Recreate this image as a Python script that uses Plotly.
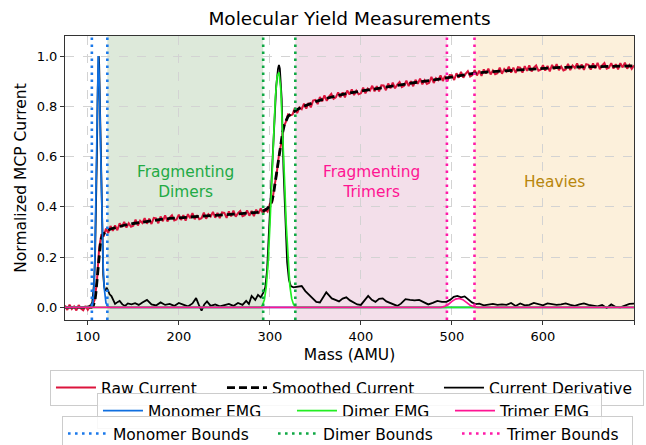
import plotly.graph_objects as go

# ---------------- data ----------------
MASS_START = 75.0
MASS_STEP = 2.5
raw_current = [
    0.008, -0.010, 0.011, -0.006, 0.004, -0.012, 0.009, -0.004, -0.011, 0.006,
    -0.009, 0.007, 0.006, 0.030, 0.100, 0.235, 0.292, 0.282, 0.314, 0.296,
    0.324, 0.305, 0.326, 0.307, 0.335, 0.320, 0.340, 0.318, 0.335, 0.321,
    0.325, 0.349, 0.326, 0.345, 0.336, 0.355, 0.333, 0.353, 0.332, 0.356,
    0.354, 0.335, 0.362, 0.343, 0.366, 0.342, 0.357, 0.367, 0.346, 0.350,
    0.369, 0.348, 0.367, 0.345, 0.371, 0.355, 0.375, 0.351, 0.367, 0.351,
    0.355, 0.377, 0.353, 0.371, 0.362, 0.380, 0.357, 0.376, 0.355, 0.378,
    0.376, 0.356, 0.382, 0.362, 0.385, 0.361, 0.375, 0.384, 0.363, 0.367,
    0.386, 0.365, 0.384, 0.363, 0.389, 0.373, 0.394, 0.373, 0.390, 0.381,
    0.412, 0.418, 0.482, 0.532, 0.607, 0.652, 0.718, 0.737, 0.768, 0.764,
    0.768, 0.794, 0.773, 0.795, 0.789, 0.811, 0.791, 0.814, 0.796, 0.823,
    0.826, 0.809, 0.837, 0.820, 0.844, 0.822, 0.839, 0.850, 0.830, 0.836,
    0.856, 0.836, 0.856, 0.836, 0.863, 0.847, 0.868, 0.845, 0.862, 0.848,
    0.852, 0.875, 0.852, 0.871, 0.863, 0.882, 0.860, 0.880, 0.860, 0.884,
    0.883, 0.864, 0.891, 0.872, 0.895, 0.872, 0.887, 0.897, 0.877, 0.882,
    0.902, 0.881, 0.900, 0.880, 0.906, 0.890, 0.910, 0.888, 0.904, 0.889,
    0.894, 0.917, 0.893, 0.912, 0.904, 0.923, 0.901, 0.921, 0.900, 0.925,
    0.924, 0.905, 0.932, 0.914, 0.937, 0.914, 0.929, 0.940, 0.919, 0.925,
    0.944, 0.923, 0.942, 0.921, 0.947, 0.931, 0.950, 0.927, 0.943, 0.928,
    0.932, 0.954, 0.930, 0.949, 0.939, 0.958, 0.934, 0.954, 0.933, 0.956,
    0.954, 0.934, 0.960, 0.941, 0.963, 0.939, 0.954, 0.963, 0.942, 0.946,
    0.964, 0.942, 0.961, 0.939, 0.965, 0.948, 0.968, 0.944, 0.959, 0.943,
    0.947, 0.969, 0.944, 0.963, 0.953, 0.971, 0.948, 0.967, 0.945, 0.968,
    0.965, 0.946, 0.971, 0.951, 0.973, 0.948, 0.963, 0.972, 0.950, 0.954,
    0.972, 0.950, 0.968, 0.947, 0.972, 0.955, 0.974, 0.950, 0.965, 0.949,
    0.963,
]

smoothed_mass = [75, 100, 104, 106, 108, 109, 110, 111, 112, 113, 114, 115, 116, 118,
                 120, 122, 125, 130, 140, 150, 160, 170, 180, 190, 200, 210, 220, 230,
                 240, 250, 260, 270, 280, 286, 290, 294, 297, 300, 302, 304, 306, 308,
                 310, 312, 314, 316, 318, 320, 323, 326, 330, 335, 340, 345, 351, 360,
                 370, 380, 390, 400, 420, 440, 460, 480, 494, 510, 525, 540, 560, 580,
                 600, 620, 640, 660, 680, 700]
smoothed_current = [0.0, 0.0, 0.0, 0.005, 0.03, 0.06, 0.10, 0.15, 0.20, 0.24, 0.26, 0.275,
                    0.285, 0.295, 0.302, 0.307, 0.312, 0.318, 0.327, 0.334, 0.340, 0.345,
                    0.350, 0.354, 0.357, 0.360, 0.363, 0.365, 0.367, 0.369, 0.371, 0.373,
                    0.376, 0.378, 0.381, 0.386, 0.393, 0.405, 0.42, 0.45, 0.50, 0.55,
                    0.60, 0.65, 0.695, 0.728, 0.748, 0.760, 0.770, 0.778, 0.787, 0.797,
                    0.805, 0.813, 0.820, 0.830, 0.840, 0.848, 0.855, 0.861, 0.873, 0.884,
                    0.895, 0.905, 0.913, 0.923, 0.932, 0.937, 0.942, 0.947, 0.952, 0.955,
                    0.957, 0.959, 0.960, 0.961]

derivative_points = [
    (75, 0.0), (80, 0.003), (85, -0.002), (90, 0.002), (95, -0.001), (100, 0.003),
    (103, 0.006), (105, 0.02), (106, 0.05), (107, 0.10), (108, 0.20), (109, 0.37),
    (110, 0.60), (111, 0.87), (111.5, 0.97), (112, 1.0), (112.5, 0.97), (113, 0.88),
    (114, 0.64), (115, 0.41), (116, 0.23), (117, 0.13), (118, 0.085), (119, 0.068),
    (120, 0.07), (121, 0.076), (122, 0.07), (124, 0.052), (126, 0.045), (128, 0.03),
    (130, 0.014), (133, 0.022), (135, 0.026), (138, 0.012), (141, 0.006), (144, 0.016),
    (148, 0.012), (152, 0.017), (156, 0.01), (160, 0.02), (165, 0.03), (170, 0.012),
    (175, 0.008), (180, 0.02), (185, 0.01), (190, 0.014), (195, 0.006), (200, 0.018),
    (205, 0.012), (210, 0.004), (215, 0.016), (219, 0.037), (222, 0.01), (225, -0.013),
    (228, 0.012), (231, 0.024), (235, 0.006), (240, 0.012), (245, 0.004), (250, 0.008),
    (255, 0.014), (260, 0.006), (265, 0.018), (270, 0.01), (274, 0.026), (277, 0.014),
    (280, 0.046), (284, 0.03), (287, 0.05), (290, 0.04), (293, 0.06), (295, 0.08),
    (297, 0.15), (299, 0.30), (301, 0.46), (303, 0.62), (305, 0.77), (307, 0.88),
    (309, 0.95), (310, 0.965), (311, 0.95), (313, 0.83), (315, 0.55), (317, 0.32),
    (319, 0.18), (321, 0.11), (323, 0.085), (326, 0.08), (330, 0.082), (335, 0.085),
    (339, 0.065), (343, 0.05), (347, 0.038), (351, 0.022), (355, 0.02), (359, 0.045),
    (362, 0.06), (365, 0.048), (368, 0.036), (372, 0.03), (376, 0.024), (380, 0.035),
    (384, 0.04), (388, 0.028), (392, 0.02), (396, 0.012), (400, 0.01), (404, 0.03),
    (408, 0.046), (412, 0.03), (416, 0.022), (420, 0.034), (424, 0.036), (428, 0.024),
    (432, 0.018), (436, 0.01), (440, 0.006), (444, 0.015), (449, 0.033), (454, 0.03),
    (459, 0.028), (464, 0.03), (469, 0.02), (474, 0.012), (479, 0.018), (484, 0.026),
    (489, 0.022), (494, 0.022), (498, 0.03), (502, 0.042), (506, 0.046), (510, 0.04),
    (514, 0.044), (518, 0.03), (522, 0.02), (526, 0.013), (530, 0.015), (535, 0.008),
    (540, 0.012), (545, 0.014), (550, 0.01), (555, 0.012), (560, 0.01), (565, 0.018),
    (570, 0.006), (575, 0.016), (580, 0.008), (585, 0.01), (590, 0.018), (595, 0.012),
    (600, 0.008), (605, 0.016), (610, 0.014), (615, 0.01), (620, 0.012), (625, 0.016),
    (630, 0.01), (635, 0.006), (640, 0.012), (645, 0.016), (650, 0.01), (655, 0.008),
    (660, 0.004), (665, 0.01), (670, -0.002), (675, 0.012), (680, 0.002), (685, 0.0),
    (690, 0.008), (695, 0.014), (700, 0.015),
]

monomer_emg_points = [
    (75, 0.0), (103, 0.0), (104, 0.002), (105, 0.008), (106, 0.03), (107, 0.09),
    (108, 0.22), (109, 0.46), (110, 0.74), (110.5, 0.88), (111, 0.97), (111.5, 1.0),
    (112, 0.98), (112.5, 0.93), (113, 0.86), (114, 0.66), (115, 0.45), (116, 0.28),
    (117, 0.16), (118, 0.08), (119, 0.04), (120, 0.018), (122, 0.004), (125, 0.0),
    (700, 0.0),
]
dimer_emg_points = [
    (75, 0.0), (290, 0.0), (292, 0.01), (294, 0.03), (296, 0.08), (298, 0.17),
    (300, 0.32), (302, 0.50), (304, 0.68), (306, 0.83), (308, 0.92), (310, 0.935),
    (312, 0.87), (314, 0.72), (316, 0.52), (318, 0.33), (320, 0.18), (322, 0.085),
    (324, 0.035), (326, 0.012), (328, 0.003), (330, 0.0), (700, 0.0),
]
trimer_emg_points = [
    (75, 0.0), (488, 0.0), (492, 0.004), (496, 0.012), (500, 0.024), (504, 0.033),
    (508, 0.036), (512, 0.031), (516, 0.02), (520, 0.009), (524, 0.003), (528, 0.0),
    (700, 0.0),
]

monomer_bounds = [104.5, 121.5]
dimer_bounds = [292.7, 328.0]
trimer_bounds = [494.5, 524.8]

x_range = [75, 700]
y_range = [-0.05, 1.08]
x_ticks = [100, 200, 300, 400, 500, 600, 700]
y_ticks = [0.0, 0.2, 0.4, 0.6, 0.8, 1.0]

region_labels = ["Fragmenting<br>Dimers", "Fragmenting<br>Trimers", "Heavies"]

# ---------------- styles ----------------
FONT = "DejaVu Sans"
C_RAW = "#DC143C"
C_MONO = "#0f6fe0"
C_DIMER = "#22ee22"
C_TRIMER = "#ff1493"
C_MONO_B = "#1a78ea"
C_DIMER_B = "#0fa844"
C_TRIMER_B = "#ff1aa8"
SHADES = ["#dde9da", "#f3dfea", "#fcf0db"]
LABEL_COLORS = ["#22aa44", "#ff1493", "#b8860b"]
# legend entry widths (px) per row, to mimic matplotlib column spacing
LW_ROW1 = [116, 162, 149]
LW_ROW2 = [139, 103, 96]
LW_ROW3 = [155, 129, 120]


def unzip(pts):
    return [p[0] for p in pts], [p[1] for p in pts]


fig = go.Figure()

# shaded regions
regions = [
    (monomer_bounds[1], dimer_bounds[0]),
    (dimer_bounds[1], trimer_bounds[0]),
    (trimer_bounds[1], x_range[1]),
]
for (a, b), col, lab, lcol in zip(regions, SHADES, region_labels, LABEL_COLORS):
    fig.add_vrect(x0=a, x1=b, fillcolor=col, line_width=0, layer="below")
    fig.add_annotation(x=(a + b) / 2, y=0.5, text=lab, showarrow=False,
                       font=dict(family=FONT, size=15.4, color=lcol), align="center")

fig.add_trace(go.Scatter(x0=MASS_START, dx=MASS_STEP, y=raw_current, mode="lines",
                         name="Raw Current", line=dict(color=C_RAW, width=2.0),
                         legend="legend", legendwidth=LW_ROW1[0]))
fig.add_trace(go.Scatter(x=smoothed_mass, y=smoothed_current, mode="lines",
                         name="Smoothed Current",
                         line=dict(color="black", width=2.8, dash="8px,4px"),
                         legend="legend", legendwidth=LW_ROW1[1]))
dx_, dy_ = unzip(derivative_points)
fig.add_trace(go.Scatter(x=dx_, y=dy_, mode="lines", name="Current Derivative",
                         line=dict(color="black", width=1.8), legend="legend",
                         legendwidth=LW_ROW1[2]))

for i, (pts, name, col) in enumerate([(monomer_emg_points, "Monomer EMG", C_MONO),
                                      (dimer_emg_points, "Dimer EMG", C_DIMER),
                                      (trimer_emg_points, "Trimer EMG", C_TRIMER)]):
    px, py = unzip(pts)
    fig.add_trace(go.Scatter(x=px, y=py, mode="lines", name=name,
                             line=dict(color=col, width=1.7), legend="legend2",
                             legendwidth=LW_ROW2[i]))

for i, (bnds, name, col) in enumerate([(monomer_bounds, "Monomer Bounds", C_MONO_B),
                                       (dimer_bounds, "Dimer Bounds", C_DIMER_B),
                                       (trimer_bounds, "Trimer Bounds", C_TRIMER_B)]):
    fig.add_trace(go.Scatter(
        x=[bnds[0], bnds[0], None, bnds[1], bnds[1]],
        y=[y_range[0], y_range[1], None, y_range[0], y_range[1]],
        mode="lines", name=name, legend="legend3", legendwidth=LW_ROW3[i],
        line=dict(color=col, width=2.6, dash="2.6px,4.4px")))

axis_common = dict(
    showline=True, mirror=True, linecolor="#333333", linewidth=1,
    ticks="outside", ticklen=4, tickcolor="#333333",
    showgrid=True, gridcolor="#d3d3d3", griddash="dash", gridwidth=1,
    zeroline=False, automargin=False,
    tickfont=dict(family=FONT, size=13, color="black"),
)

legend_common = dict(
    orientation="h", xanchor="left", yanchor="top", itemwidth=40,
    bgcolor="rgba(255,255,255,0.85)", bordercolor="#cccccc", borderwidth=1,
    font=dict(family=FONT, size=15.5, color="black"),
)

fig.update_layout(
    width=646, height=445,
    margin=dict(l=65, r=12, t=36, b=125, autoexpand=False),
    paper_bgcolor="white", plot_bgcolor="white",
    font=dict(family=FONT, color="black"),
    title=dict(text="Molecular Yield Measurements", x=0.5, xref="paper",
               y=(445 - 19) / 445, yref="container", yanchor="middle",
               font=dict(family=FONT, size=18.5, color="black")),
    xaxis=dict(range=x_range, tickvals=x_ticks,
               title=dict(text="Mass (AMU)", standoff=6,
                          font=dict(family=FONT, size=15.5, color="black")),
               **axis_common),
    yaxis=dict(range=y_range, tickvals=y_ticks, tickformat=".1f",
               title=dict(text="Normalized MCP Current", standoff=6,
                          font=dict(family=FONT, size=15.5, color="black")),
               **axis_common),
    legend=dict(y=-0.176, x=-0.0264, **legend_common),
    legend2=dict(y=-0.257, x=0.0562, **legend_common),
    legend3=dict(y=-0.338, x=-0.0053, **legend_common),
)

fig.write_html("out.html")
